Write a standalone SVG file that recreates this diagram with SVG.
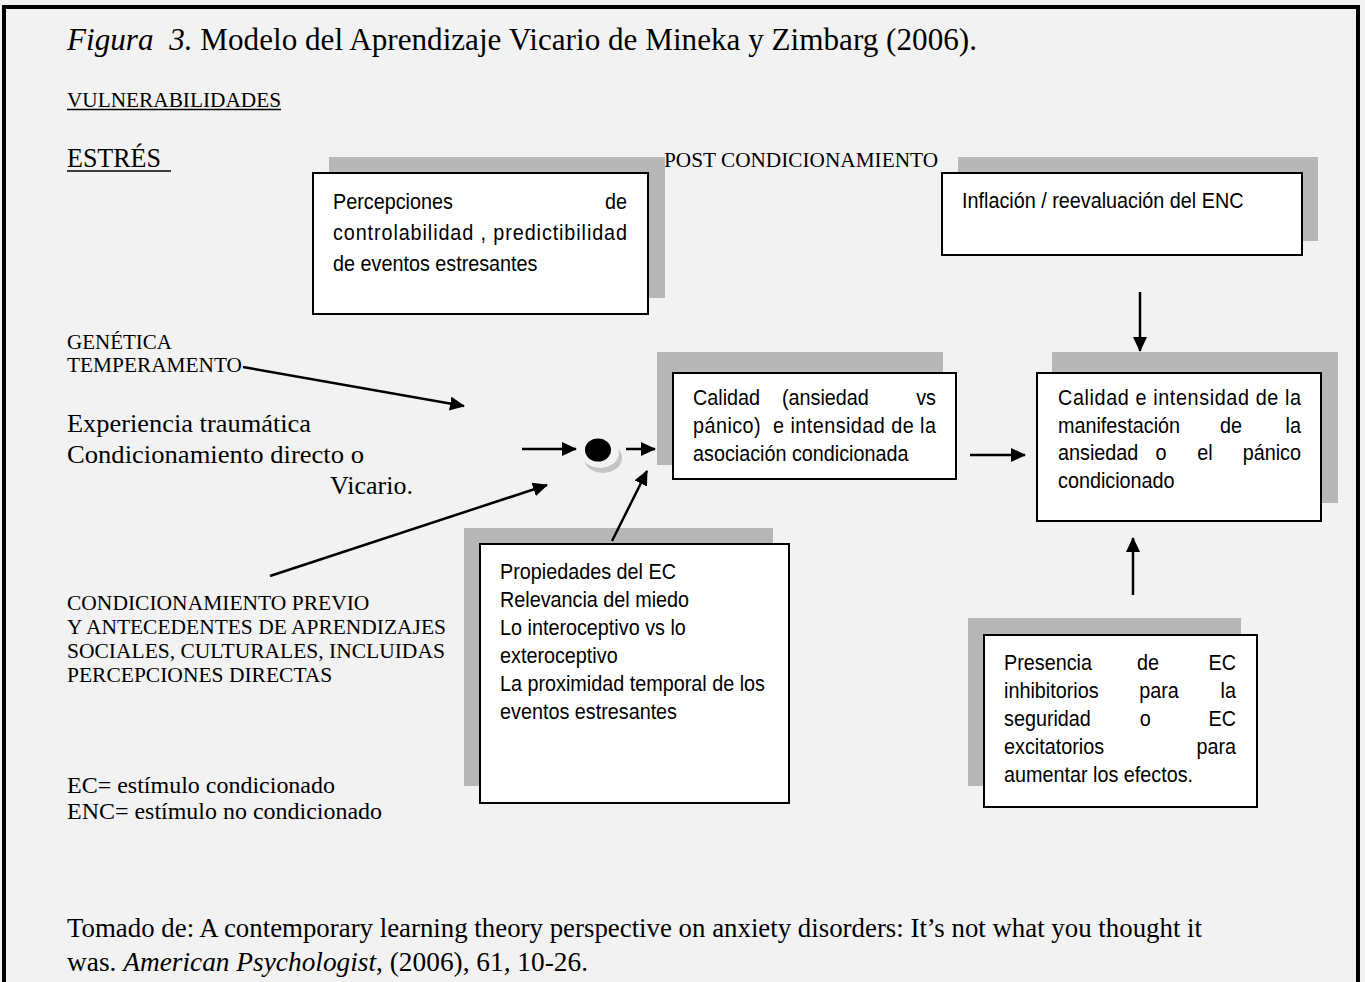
<svg xmlns="http://www.w3.org/2000/svg" width="1365" height="982" viewBox="0 0 1365 982">
  <style>
    .serif { font-family: "Liberation Serif", "Times New Roman", serif; fill: #000; }
    .sans { font-family: "Liberation Sans", Arial, sans-serif; fill: #000; font-size: 22px; }
    .shadow { fill: #b7b7b7; }
    .box { fill: #fff; stroke: #000; stroke-width: 2; }
    .conn { stroke: #000; stroke-width: 2.5; fill: none; marker-end: url(#head); }
    .ul { stroke: #000; stroke-width: 1.6; }
  </style>
  <defs>
    <marker id="head" viewBox="0 0 15 14" refX="14" refY="7" markerWidth="15" markerHeight="14" markerUnits="userSpaceOnUse" orient="auto">
      <path d="M0,0 L15,7 L0,14 z" fill="#000"/>
    </marker>
  </defs>

  <!-- page background and frame -->
  <rect x="0" y="0" width="1365" height="982" fill="#f2f2f2"/>
  <path d="M4,982 V7 H1358 V982" fill="none" stroke="#000" stroke-width="4"/>

  <!-- heading and side labels -->
  <g id="title">
    <text class="serif" x="67" y="50" font-size="31.5" textLength="910" lengthAdjust="spacingAndGlyphs"><tspan font-style="italic">Figura&#160; 3.</tspan> Modelo del Aprendizaje Vicario de Mineka y Zimbarg (2006).</text>
  </g>
  <g id="vulnerabilidades">
    <text class="serif" x="67" y="107" font-size="21.5" textLength="214" lengthAdjust="spacingAndGlyphs">VULNERABILIDADES</text>
    <line class="ul" x1="67" y1="109.5" x2="281" y2="109.5"/>
  </g>
  <g id="estres">
    <text class="serif" x="67" y="167" font-size="27" textLength="94" lengthAdjust="spacingAndGlyphs">ESTRÉS</text>
    <line class="ul" x1="67" y1="171" x2="171" y2="171" stroke-width="2"/>
  </g>
  <g id="post">
    <text class="serif" x="664" y="167" font-size="21" textLength="274" lengthAdjust="spacingAndGlyphs">POST CONDICIONAMIENTO</text>
  </g>
  <g id="genetica">
    <text class="serif" x="67" y="349" font-size="21">GENÉTICA</text>
    <text class="serif" x="67" y="372" font-size="21" textLength="175" lengthAdjust="spacingAndGlyphs">TEMPERAMENTO</text>
  </g>
  <g id="experiencia">
    <text class="serif" x="67" y="432" font-size="26" textLength="244" lengthAdjust="spacingAndGlyphs">Experiencia traumática</text>
    <text class="serif" x="67" y="463" font-size="26" textLength="297" lengthAdjust="spacingAndGlyphs">Condicionamiento directo o</text>
    <text class="serif" x="330" y="494" font-size="26">Vicario.</text>
  </g>
  <g id="previo">
    <text class="serif" x="67" y="610" font-size="21.5">CONDICIONAMIENTO PREVIO</text>
    <text class="serif" x="67" y="634" font-size="21.5" textLength="379" lengthAdjust="spacingAndGlyphs">Y ANTECEDENTES DE APRENDIZAJES</text>
    <text class="serif" x="67" y="658" font-size="21.5">SOCIALES, CULTURALES, INCLUIDAS</text>
    <text class="serif" x="67" y="682" font-size="21.5">PERCEPCIONES DIRECTAS</text>
  </g>
  <g id="leyenda">
    <text class="serif" x="67" y="793" font-size="23.5" textLength="268" lengthAdjust="spacingAndGlyphs">EC= estímulo condicionado</text>
    <text class="serif" x="67" y="819" font-size="23.5" textLength="315" lengthAdjust="spacingAndGlyphs">ENC= estímulo no condicionado</text>
  </g>
  <g id="fuente">
    <text class="serif" x="67" y="937" font-size="26.5" textLength="1135" lengthAdjust="spacingAndGlyphs">Tomado de: A contemporary learning theory perspective on anxiety disorders: It’s not what you thought it</text>
    <text class="serif" x="67" y="971" font-size="26.5" textLength="521" lengthAdjust="spacingAndGlyphs">was. <tspan font-style="italic">American Psychologist</tspan>, (2006), 61<tspan font-style="italic">,</tspan> 10-26.</text>
  </g>

  <!-- boxes: box text is set in a narrowed Arial (group scaled 0.9 horizontally) -->
  <g id="percepciones">
    <rect class="shadow" x="329" y="157" width="336" height="141"/>
    <rect class="box" x="313" y="173" width="335" height="141"/>
    <g transform="translate(333 0) scale(0.9 1)">
      <text class="sans" x="0" y="209">Percepciones</text>
      <text class="sans" x="326.7" y="209" text-anchor="end">de</text>
      <text class="sans" x="0" y="240" textLength="326.7" lengthAdjust="spacing">controlabilidad , predictibilidad</text>
      <text class="sans" x="0" y="271">de eventos estresantes</text>
    </g>
  </g>

  <g id="inflacion">
    <rect class="shadow" x="958" y="157" width="360" height="84"/>
    <rect class="box" x="942" y="173" width="360" height="82"/>
    <g transform="translate(962 0) scale(0.9 1)">
      <text class="sans" x="0" y="208" font-size="20.6">Inflación / reevaluación del ENC</text>
    </g>
  </g>

  <g id="asociacion">
    <rect class="shadow" x="657" y="352" width="286" height="113"/>
    <rect class="box" x="673" y="373" width="283" height="106"/>
    <g transform="translate(693 0) scale(0.9 1)">
      <text class="sans" x="0" y="405">Calidad</text>
      <text class="sans" x="98.9" y="405">(ansiedad</text>
      <text class="sans" x="270" y="405" text-anchor="end">vs</text>
      <text class="sans" x="0" y="433" textLength="270" lengthAdjust="spacing">pánico)&#160; e intensidad de la</text>
      <text class="sans" x="0" y="461">asociación condicionada</text>
    </g>
  </g>

  <g id="manifestacion">
    <rect class="shadow" x="1052" y="352" width="286" height="151"/>
    <rect class="box" x="1037" y="373" width="284" height="148"/>
    <g transform="translate(1058 0) scale(0.9 1)">
      <text class="sans" x="0" y="405" textLength="270" lengthAdjust="spacing">Calidad e intensidad de la</text>
      <text class="sans" x="0" y="433">manifestación</text>
      <text class="sans" x="192.2" y="433" text-anchor="middle">de</text>
      <text class="sans" x="270" y="433" text-anchor="end">la</text>
      <text class="sans" x="0" y="460">ansiedad</text>
      <text class="sans" x="114.4" y="460" text-anchor="middle">o</text>
      <text class="sans" x="163.3" y="460" text-anchor="middle">el</text>
      <text class="sans" x="270" y="460" text-anchor="end">pánico</text>
      <text class="sans" x="0" y="488">condicionado</text>
    </g>
  </g>

  <g id="propiedades">
    <rect class="shadow" x="464" y="528" width="309" height="258"/>
    <rect class="box" x="480" y="544" width="309" height="259"/>
    <g transform="translate(500 0) scale(0.9 1)">
      <text class="sans" x="0" y="579">Propiedades del EC</text>
      <text class="sans" x="0" y="607">Relevancia del miedo</text>
      <text class="sans" x="0" y="635">Lo interoceptivo vs lo</text>
      <text class="sans" x="0" y="663">exteroceptivo</text>
      <text class="sans" x="0" y="691">La proximidad temporal de los</text>
      <text class="sans" x="0" y="719">eventos estresantes</text>
    </g>
  </g>

  <g id="presencia">
    <rect class="shadow" x="968" y="618" width="273" height="168"/>
    <rect class="box" x="984" y="635" width="273" height="172"/>
    <g transform="translate(1004 0) scale(0.9 1)">
      <text class="sans" x="0" y="670">Presencia</text>
      <text class="sans" x="160" y="670" text-anchor="middle">de</text>
      <text class="sans" x="257.8" y="670" text-anchor="end">EC</text>
      <text class="sans" x="0" y="698">inhibitorios</text>
      <text class="sans" x="172.2" y="698" text-anchor="middle">para</text>
      <text class="sans" x="257.8" y="698" text-anchor="end">la</text>
      <text class="sans" x="0" y="726">seguridad</text>
      <text class="sans" x="157" y="726" text-anchor="middle">o</text>
      <text class="sans" x="257.8" y="726" text-anchor="end">EC</text>
      <text class="sans" x="0" y="754">excitatorios</text>
      <text class="sans" x="257.8" y="754" text-anchor="end">para</text>
      <text class="sans" x="0" y="782">aumentar los efectos.</text>
    </g>
  </g>

  <!-- junction point: black dot on a raised button -->
  <g id="union">
    <ellipse cx="603" cy="458" rx="19" ry="15" fill="#c4c4c4"/>
    <ellipse cx="600" cy="453" rx="19" ry="15" fill="#f2f2f2"/>
    <ellipse cx="598" cy="450" rx="13" ry="11.5" fill="#000"/>
  </g>

  <!-- connectors -->
  <g id="connectors">
    <line class="conn" x1="243" y1="367" x2="464" y2="406"/>
    <line class="conn" x1="270" y1="576" x2="547" y2="485"/>
    <line class="conn" x1="522" y1="449" x2="576" y2="449"/>
    <line class="conn" x1="626" y1="449" x2="655" y2="449"/>
    <line class="conn" x1="612" y1="541" x2="647" y2="471"/>
    <line class="conn" x1="970" y1="455" x2="1025" y2="455"/>
    <line class="conn" x1="1140" y1="292" x2="1140" y2="351"/>
    <line class="conn" x1="1133" y1="595" x2="1133" y2="538"/>
  </g>
</svg>
